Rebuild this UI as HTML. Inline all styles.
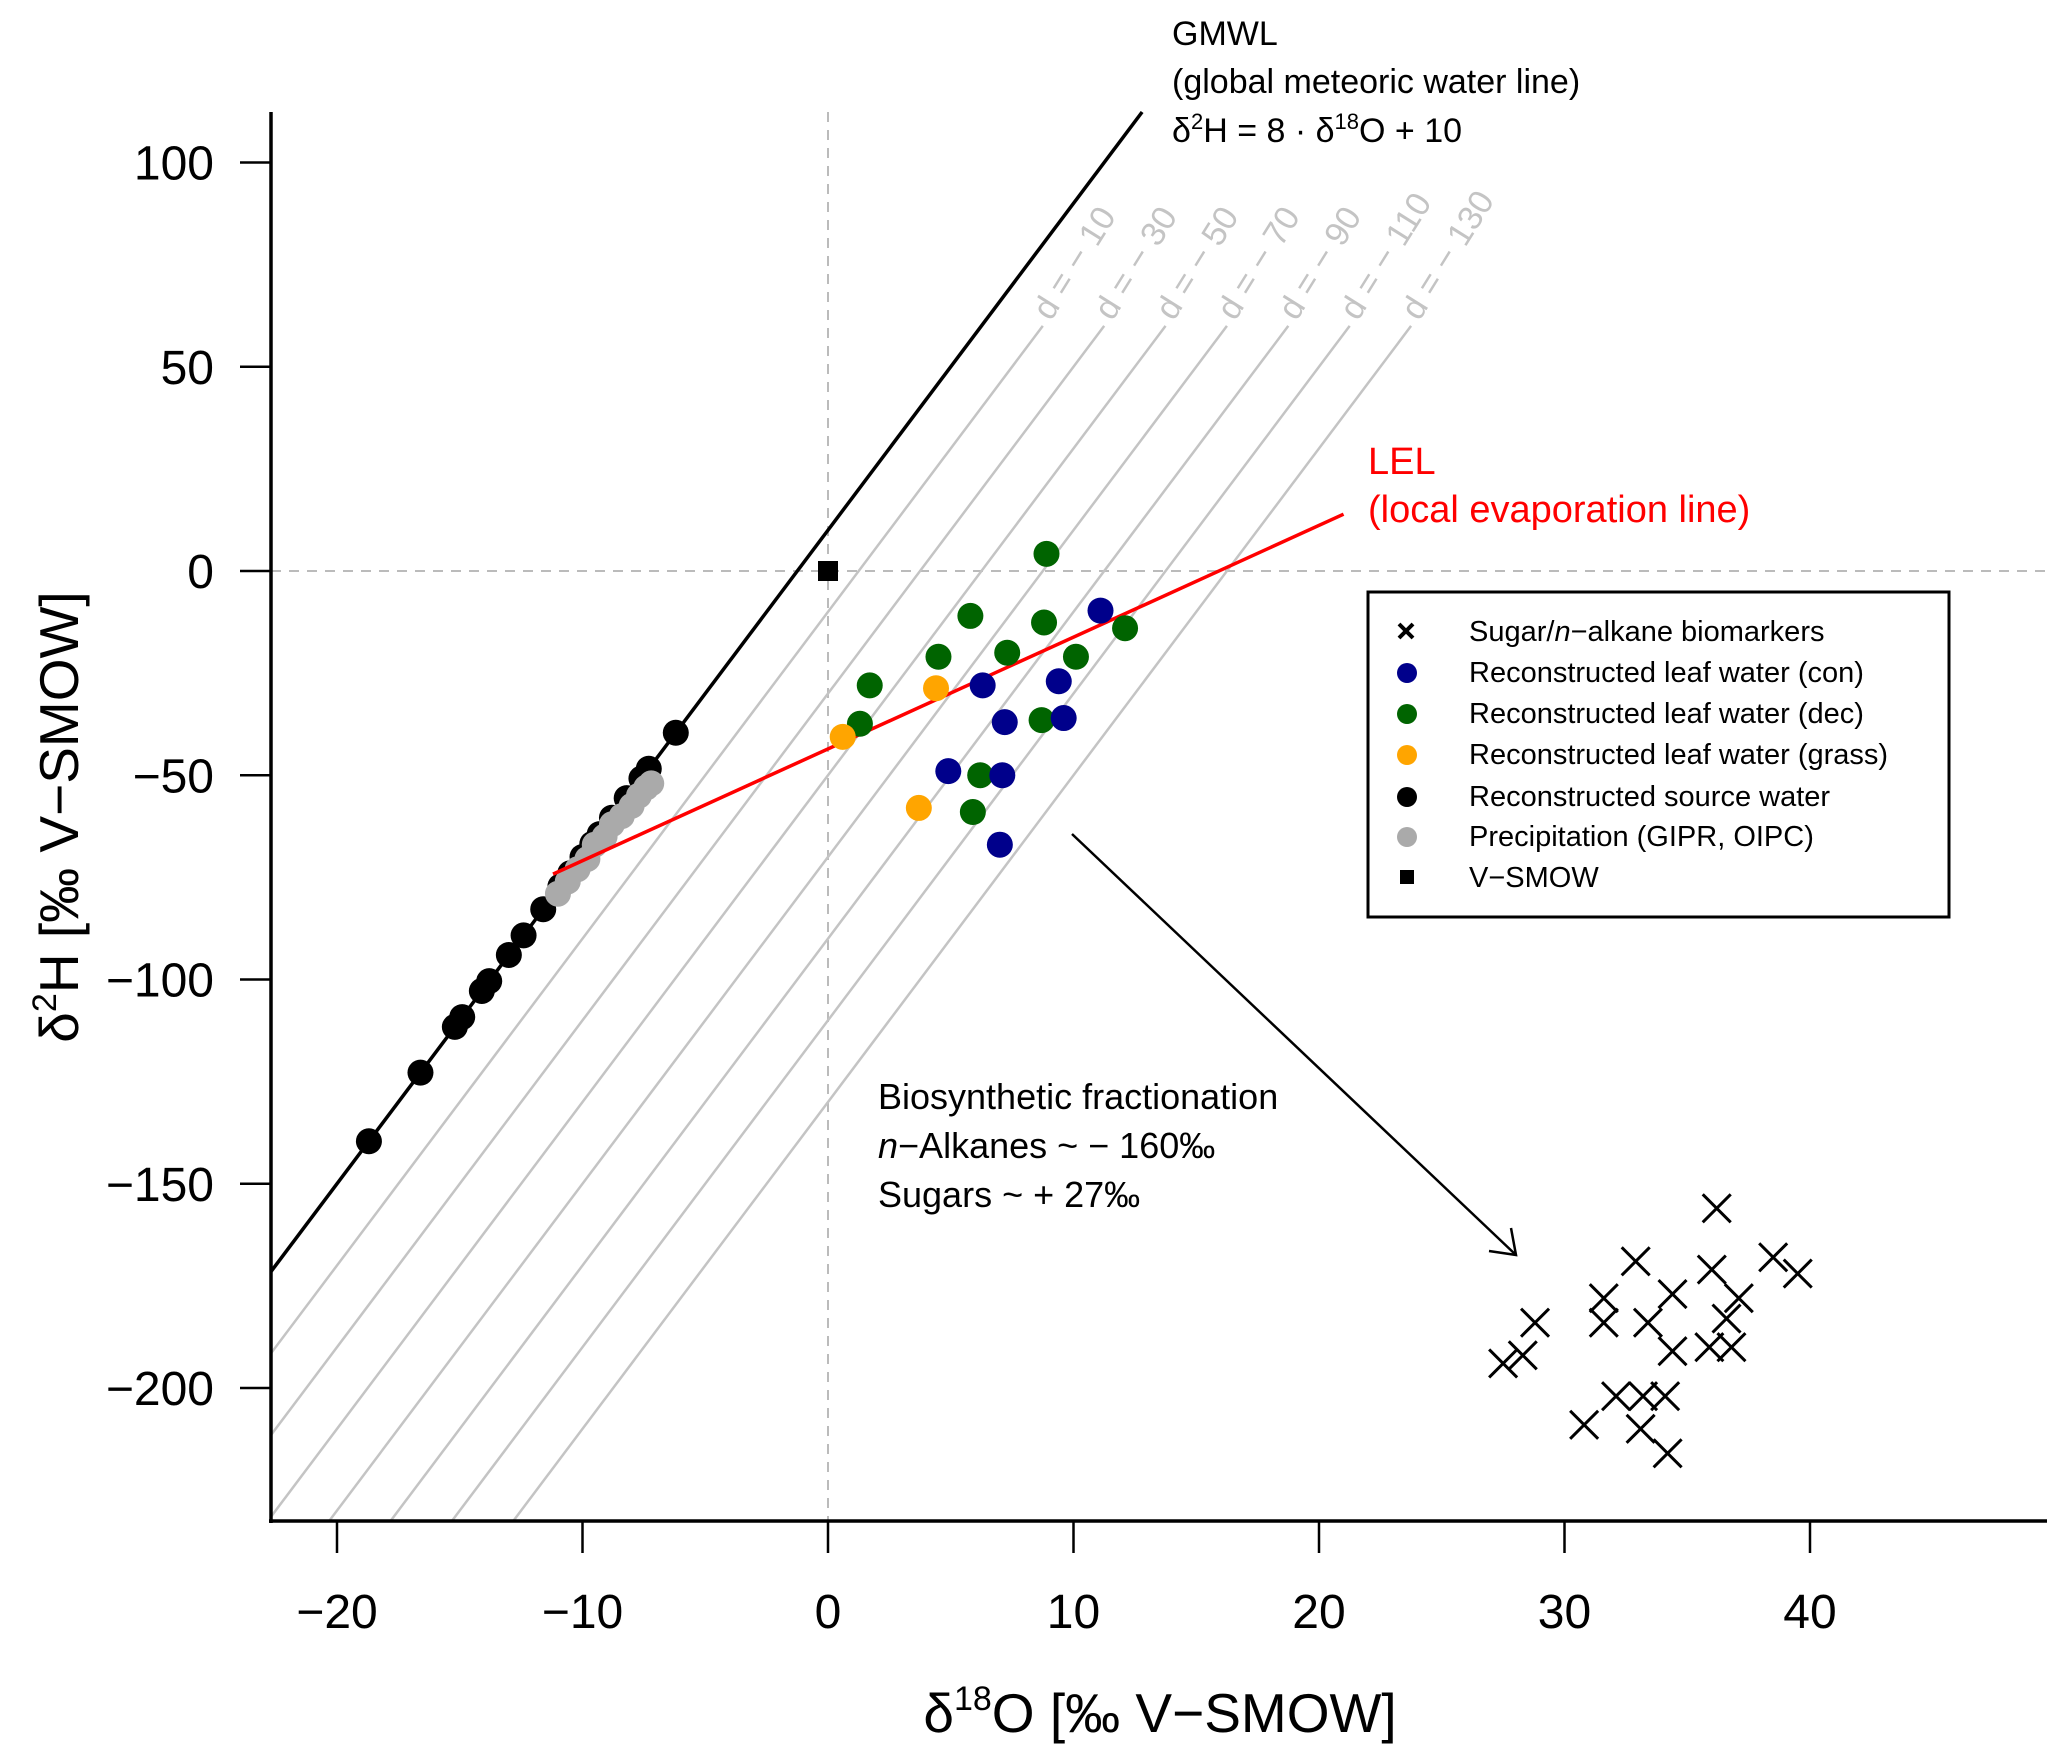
<!DOCTYPE html>
<html><head><meta charset="utf-8">
<style>
html,body{margin:0;padding:0;background:#fff;}
svg{display:block;font-family:"Liberation Sans",Arial,sans-serif;}
</style></head>
<body>
<svg id="chart" width="2067" height="1762" viewBox="0 0 2067 1762" xmlns="http://www.w3.org/2000/svg">
<defs><clipPath id="plotclip"><rect x="271" y="112" width="1776" height="1409"/></clipPath></defs>
<g id="grid" clip-path="url(#plotclip)"></g>
<g id="marks"></g>
<g id="axes"></g>
<g id="annot"></g>
<g id="legend"></g>
</svg>
<script>
const xTicks = [-20,-10,0,10,20,30,40];
const yTicks = [100,50,0,-50,-100,-150,-200];
const dValues = [-10,-30,-50,-70,-90,-110,-130];
const sourceX = [-18.7,-16.6,-15.2,-14.9,-14.1,-13.8,-13.0,-12.4,-11.6,-10.9,-10.5,-10.0,-9.6,-9.3,-8.8,-8.2,-7.6,-7.3,-6.2];
const precipX = [-11.0,-10.6,-10.2,-9.8,-9.5,-9.1,-8.8,-8.4,-8.0,-7.7,-7.4,-7.2];
const precipY = [-79,-76,-73,-70.5,-67,-65,-62,-60,-57.5,-55,-53,-52];
const conX = [11.1,6.3,9.4,7.2,9.6,4.9,7.1,7.0];
const conY = [-9.7,-28,-27,-37,-36,-49,-50,-67];
const decX = [8.9,5.8,8.8,12.1,7.3,10.1,4.5,1.7,1.3,8.7,6.2,5.9];
const decY = [4.2,-11,-12.6,-14,-20,-21,-21,-28,-37.4,-36.5,-50,-59];
const grassX = [4.4,0.6,3.7];
const grassY = [-28.7,-40.6,-58];
const bioX = [36.2,32.9,36.0,38.5,39.5,31.6,34.4,37.1,28.8,33.4,31.6,36.6,27.5,28.3,34.4,35.9,36.8,32.1,33.2,34.1,30.8,33.1,34.2];
const bioY = [-156,-169,-171,-168,-172,-178,-177,-178,-184,-184,-184,-183,-194,-192,-191,-190,-190,-202,-202,-202,-209,-210,-216];
const lelX = [-11.2,21.0];
const lelY = [-74.2,13.9];

const X0=828, XS=24.55, Y0=571, YS=4.085;
const xMin=(271-X0)/XS, xMax=(2047-X0)/XS, yMin=(Y0-1521)/YS, yMax=(Y0-112)/YS;
function sx(v){return X0+v*XS;}
function sy(v){return Y0-v*YS;}
const NS="http://www.w3.org/2000/svg";
function mk(tag,attrs,parent){const e=document.createElementNS(NS,tag);for(const k in attrs)e.setAttribute(k,attrs[k]);parent.appendChild(e);return e;}
const grid=document.getElementById('grid'),marks=document.getElementById('marks'),axes=document.getElementById('axes'),annot=document.getElementById('annot'),legend=document.getElementById('legend');

let e=mk('line',{x1:sx(0),y1:112,x2:sx(0),y2:1521,stroke:'#bbb','stroke-width':2,'stroke-dasharray':'10,8'},grid);

e=mk('line',{x1:271,y1:sy(0),x2:2047,y2:sy(0),stroke:'#bbb','stroke-width':2,'stroke-dasharray':'10,8'},grid);


dValues.forEach(d=>{
  const yTop=60;
  const xTop=(yTop-d)/8;
  let xb=(yMin-d)/8, yb=yMin;
  if(xb<xMin){xb=xMin;yb=8*xMin+d;}
  const l=mk('line',{x1:sx(xb),y1:sy(yb),x2:sx(xTop),y2:sy(yTop),stroke:'#c4c4c4','stroke-width':2.5},grid);
  
  
  const t=mk('text',{x:0,y:0,'font-size':34,fill:'#c4c4c4',transform:`translate(${sx(xTop)+8},${sy(yTop)-4}) rotate(-58)`},annot);
  t.textContent='d = \u2212 '+Math.abs(d);
  
  
});

const gx1=xMin, gx2=(yMax-10)/8;
e=mk('line',{x1:sx(gx1),y1:sy(8*gx1+10),x2:sx(gx2),y2:sy(8*gx2+10),stroke:'#000','stroke-width':3.5},marks);


sourceX.forEach(v=>{const c=mk('circle',{cx:sx(v),cy:sy(8*v+10),r:13,fill:'#000'},marks);

});
precipX.forEach((v,i)=>{const c=mk('circle',{cx:sx(v),cy:sy(precipY[i]),r:13,fill:'#aaa'},marks);

});

e=mk('line',{x1:sx(lelX[0]),y1:sy(lelY[0]),x2:sx(lelX[1]),y2:sy(lelY[1]),stroke:'#f00','stroke-width':3.5},marks);


decX.forEach((v,i)=>{const c=mk('circle',{cx:sx(v),cy:sy(decY[i]),r:13,fill:'#006400'},marks);

});
conX.forEach((v,i)=>{const c=mk('circle',{cx:sx(v),cy:sy(conY[i]),r:13,fill:'#00008B'},marks);

});
grassX.forEach((v,i)=>{const c=mk('circle',{cx:sx(v),cy:sy(grassY[i]),r:13,fill:'#FFA500'},marks);

});

e=mk('rect',{x:sx(0)-10,y:sy(0)-10,width:20,height:20,fill:'#000'},marks);


bioX.forEach((v,i)=>{const cx=sx(v),cy=sy(bioY[i]),s=14;
const p=mk('path',{d:`M${cx-s},${cy-s}L${cx+s},${cy+s}M${cx-s},${cy+s}L${cx+s},${cy-s}`,stroke:'#000','stroke-width':3,fill:'none'},marks);

});

e=mk('line',{x1:271,y1:112,x2:271,y2:1523,stroke:'#000','stroke-width':3.5},axes);

e=mk('line',{x1:269,y1:1521,x2:2047,y2:1521,stroke:'#000','stroke-width':3.5},axes);

xTicks.forEach(v=>{
  const l=mk('line',{x1:sx(v),y1:1521,x2:sx(v),y2:1553,stroke:'#000','stroke-width':2.5},axes);
  
  
  const t=mk('text',{x:sx(v),y:1628,'font-size':48,'text-anchor':'middle'},axes);
  t.textContent=v<0?'\u2212'+Math.abs(v):String(v);
  
  
});
yTicks.forEach(v=>{
  const l=mk('line',{x1:240,y1:sy(v),x2:271,y2:sy(v),stroke:'#000','stroke-width':2.5},axes);
  
  
  const t=mk('text',{x:214,y:sy(v)+17,'font-size':48,'text-anchor':'end'},axes);
  t.textContent=v<0?'\u2212'+Math.abs(v):String(v);
  
  
});
</script>
<svg style="position:absolute;left:0;top:0" width="2067" height="1762" font-family="Liberation Sans, Arial, sans-serif">
<text x="1160" y="1732" font-size="55" text-anchor="middle">δ<tspan font-size="34" dy="-22">18</tspan><tspan dy="22">O [‰ V−SMOW]</tspan></text>
<text transform="translate(78,817) rotate(-90)" font-size="55" text-anchor="middle">δ<tspan font-size="34" dy="-22">2</tspan><tspan dy="22">H [‰ V−SMOW]</tspan></text>
<g font-size="34">
<text x="1172" y="45">GMWL</text>
<text x="1172" y="93">(global meteoric water line)</text>
<text x="1172" y="142">δ<tspan font-size="22" dy="-13">2</tspan><tspan dy="13">H = 8 · δ</tspan><tspan font-size="22" dy="-13">18</tspan><tspan dy="13">O + 10</tspan></text>
</g>
<g font-size="38" fill="#f00">
<text x="1368" y="474">LEL</text>
<text x="1368" y="522">(local evaporation line)</text>
</g>
<g font-size="36">
<text x="878" y="1109">Biosynthetic fractionation</text>
<text x="878" y="1158"><tspan font-style="italic">n</tspan>−Alkanes ~ − 160‰</text>
<text x="878" y="1207">Sugars ~ + 27‰</text>
</g>
<g stroke="#000" stroke-width="2.5" fill="none">
<line x1="1072" y1="834" x2="1516" y2="1255"/>
<path d="M1489,1251 L1516,1255 L1511,1228"/>
</g>
<g>
<rect x="1368" y="592" width="581" height="325" fill="#fff" stroke="#000" stroke-width="3"/>
<path d="M1399,624 L1413,638 M1399,638 L1413,624" stroke="#000" stroke-width="4"/>
<circle cx="1407" cy="673" r="10" fill="#00008B"/>
<circle cx="1407" cy="714" r="10" fill="#006400"/>
<circle cx="1407" cy="755" r="10" fill="#FFA500"/>
<circle cx="1407" cy="797" r="10" fill="#000"/>
<circle cx="1407" cy="837" r="10" fill="#aaa"/>
<rect x="1400" y="870" width="14" height="14" fill="#000"/>
<g font-size="29">
<text x="1469" y="641">Sugar/<tspan font-style="italic">n</tspan>−alkane biomarkers</text>
<text x="1469" y="682">Reconstructed leaf water (con)</text>
<text x="1469" y="723">Reconstructed leaf water (dec)</text>
<text x="1469" y="764">Reconstructed leaf water (grass)</text>
<text x="1469" y="806">Reconstructed source water</text>
<text x="1469" y="846">Precipitation (GIPR, OIPC)</text>
<text x="1469" y="887">V−SMOW</text>
</g>
</g>
</svg>
</body></html>
